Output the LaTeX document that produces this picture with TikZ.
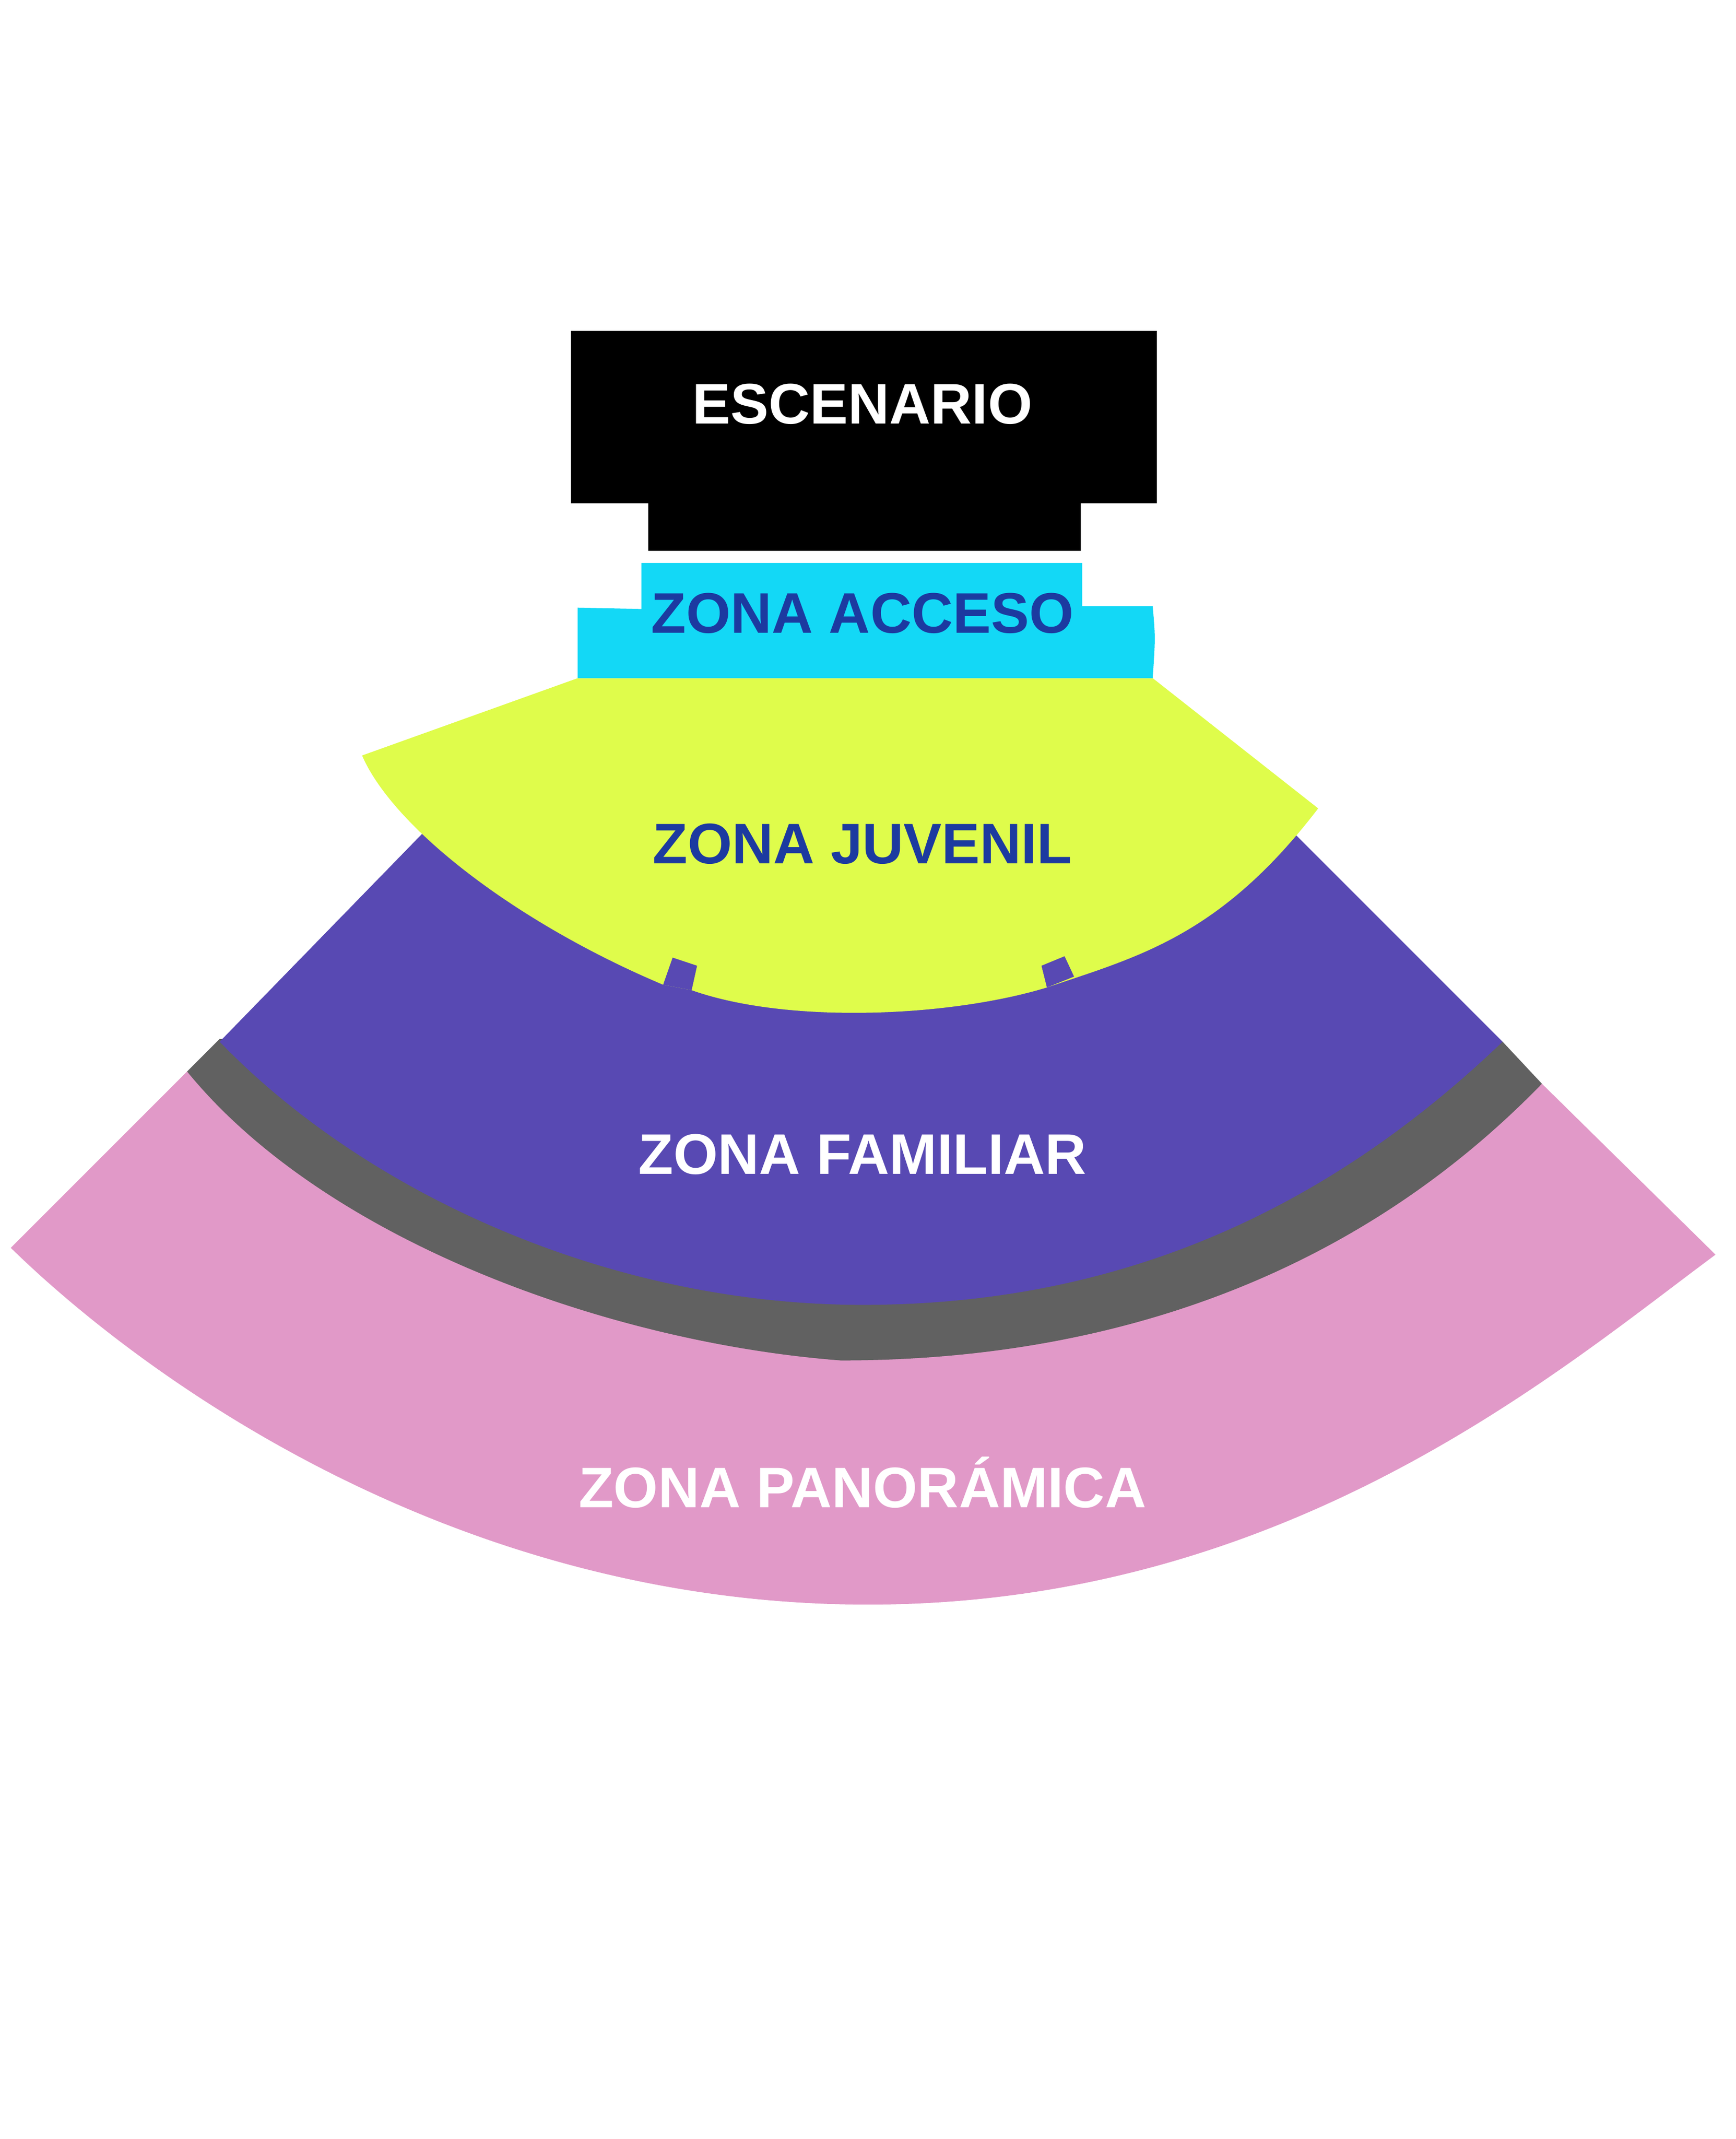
\documentclass[tikz,border=0pt]{standalone}
\usepackage{fontspec}
\setmainfont{Liberation Sans}
\definecolor{acceso}{HTML}{13D8F6}
\definecolor{juvenil}{HTML}{DFFC4B}
\definecolor{familiar}{HTML}{5849B3}
\definecolor{pasillo}{HTML}{616161}
\definecolor{panoramica}{HTML}{E199C8}
\definecolor{azul}{HTML}{1C3AA0}
\tikzset{zona/.style={font=\fontsize{24}{28}\selectfont\bfseries, inner sep=0pt}}
\begin{document}
\begin{tikzpicture}[x=0.02cm, y=-0.02cm]
  \useasboundingbox (0,0) rectangle (1280,1577);
  % seating areas, back to front
  \fill[panoramica] (8,920) -- (138,790) -- (1137,799) -- (1265,925)
    .. controls (1150,1010) and (950,1183) .. (640,1183)
    .. controls (330,1183) and (100,1010) .. cycle;
  \fill[pasillo] (138,790) -- (162,766) -- (1108,768) -- (1137,799)
    .. controls (1000,940) and (820,1003) .. (620,1003)
    .. controls (450,990) and (240,915) .. cycle;
  \fill[familiar] (312,614) -- (956,616) -- (1108,768)
    .. controls (960,910) and (800,962) .. (636,962)
    .. controls (450,962) and (270,880) .. (162,768) -- cycle;
  \fill[juvenil] (426,500) -- (850,500) -- (972,596)
    .. controls (900,690) and (840,705) .. (772,728)
    .. controls (700,750) and (580,755) .. (510,730)
    -- (489,726)
    .. controls (380,680) and (290,610) .. (267,557) -- cycle;
  \fill[familiar] (489,726) -- (496,706) -- (514,712) -- (510,730) -- cycle;
  \fill[familiar] (772,728) -- (768,712) -- (785,705) -- (792,720) -- cycle;
  \fill[acceso] (473,415) -- (798,415) -- (798,447) -- (850,447)
    .. controls (852,470) .. (850,500) -- (426,500) -- (426,448) -- (473,449) -- cycle;
  \fill[black] (421,244) -- (853,244) -- (853,371) -- (797,371) -- (797,406)
    -- (478,406) -- (478,371) -- (421,371) -- cycle;
  % labels
  \node[zona, white] (escenario) at (636,298) {ESCENARIO};
  \node[zona, azul] (acc) at (636,452) {ZONA ACCESO};
  \node[zona, azul] (juv) at (636,622) {ZONA JUVENIL};
  \node[zona, white] (fam) at (636,851) {ZONA FAMILIAR};
  \node[zona, white] (pan) at (636,1093) {ZONA PANORÁMICA};
\end{tikzpicture}
\end{document}
